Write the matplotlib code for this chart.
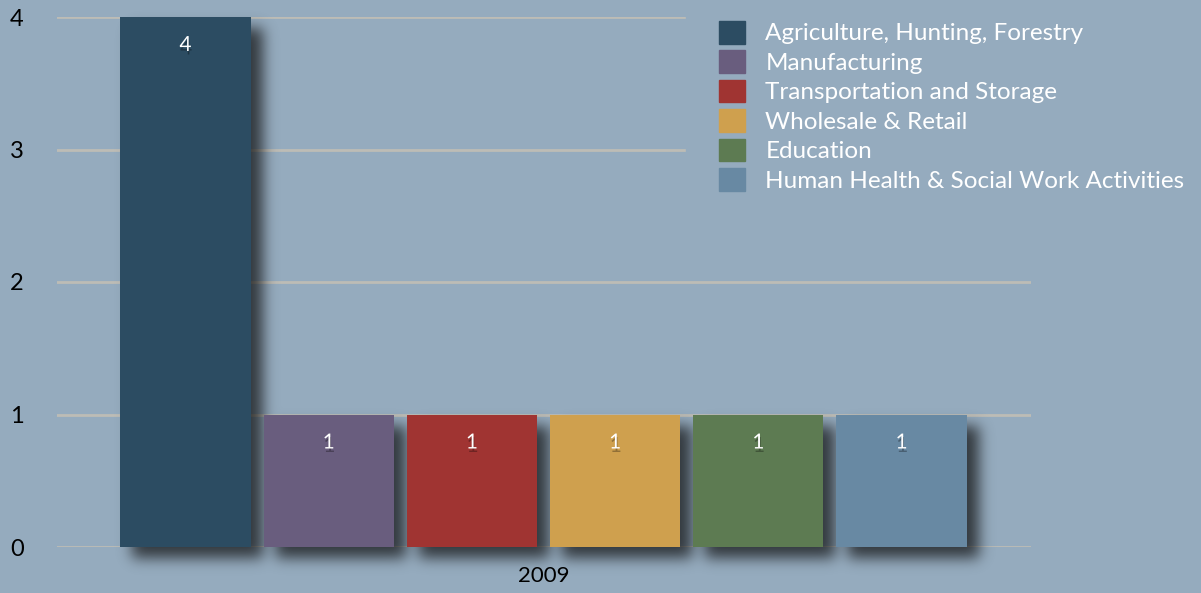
import matplotlib
matplotlib.use("Agg")
import numpy as np
import matplotlib.pyplot as plt
from matplotlib.patches import Rectangle
import matplotlib.patheffects as pe

categories = ["Agriculture, Hunting, Forestry", "Manufacturing", "Transportation and Storage",
              "Wholesale & Retail", "Education", "Human Health & Social Work Activities"]
values = [4, 1, 1, 1, 1, 1]
year_label = "2009"
yticks = [0, 1, 2, 3, 4]
colors = ["#2c4c62", "#695d7e", "#a03432", "#cfa04e", "#5d7b52", "#6889a3"]

BG = "#95abbe"
GRID = "#bdbcb6"
FONT = ["Lato", "DejaVu Sans"]
plt.rcParams["font.family"] = FONT

W, H = 1201, 593
fig = plt.figure(figsize=(W/100, H/100), dpi=100, facecolor=BG)
ax = fig.add_axes([57/W, 1-547/H, (1031-57)/W, (547-17)/H])
ax.set_facecolor(BG)
for s in ax.spines.values():
    s.set_visible(False)

step = 1.1
width = 1.0
xs = [i*step for i in range(len(values))]
ax.set_xlim(-0.987, xs[0] + 6.494)
ax.set_ylim(0, 4)

for y in yticks:
    ax.axhline(y, color=GRID, lw=2, zorder=1)

bars = ax.bar(xs, values, width=width, color=colors, zorder=3)

# blurred drop shadow computed from the bar geometry in pixel space
fig.canvas.draw()
mask = np.zeros((H, W))
dx, dy = 12, 11
for b in bars:
    (x0, y0), (x1, y1) = ax.transData.transform([(b.get_x(), b.get_y()),
                                                  (b.get_x() + b.get_width(), b.get_y() + b.get_height())])
    c0, c1 = int(round(x0 + dx)), int(round(x1 + dx))
    r0, r1 = int(round(H - y1 + dy)), int(round(H - y0 + dy))
    mask[max(r0, 0):min(r1, H), max(c0, 0):min(c1, W)] = 1.0
sigma = 7.0
k = np.arange(-24, 25)
g = np.exp(-k**2 / (2*sigma**2)); g /= g.sum()
mask = np.apply_along_axis(lambda m: np.convolve(m, g, mode='same'), 0, mask)
mask = np.apply_along_axis(lambda m: np.convolve(m, g, mode='same'), 1, mask)
rgba = np.zeros((H, W, 4))
rgba[..., :3] = 0.05
rgba[..., 3] = mask * 0.72
inv = ax.transData.inverted()
(ex0, ey0), (ex1, ey1) = inv.transform([(0, 0), (W, H)])
ax.imshow(rgba, extent=(ex0, ex1, ey0, ey1), origin='upper', aspect='auto',
          interpolation='nearest', zorder=2, clip_on=False)
ax.set_xlim(-0.987, xs[0] + 6.494)
ax.set_ylim(0, 4)

for x, v in zip(xs, values):
    t = ax.annotate(str(v), (x, v), xytext=(0, -28), textcoords='offset pixels',
                    ha='center', va='center', color='white', fontsize=15, zorder=5)
    t.set_path_effects([pe.withSimplePatchShadow(offset=(0.5, -2.5), shadow_rgbFace='black', alpha=0.3)])

ax.set_yticks(yticks)
ax.set_yticklabels([str(v) for v in yticks], fontsize=17, ha='left')
ax.tick_params(axis='y', length=0, pad=34, colors='black')
ax.set_xticks([(xs[0] + xs[-1]) / 2])
ax.set_xticklabels([year_label], fontsize=16)
ax.tick_params(axis='x', length=0, pad=14, colors='black')

handles = [Rectangle((0, 0), 1, 1, color=c) for c in colors]
leg = fig.legend(handles, categories, loc='upper left', bbox_to_anchor=(686/W, 1 + 12/H),
                 frameon=True, facecolor=BG, edgecolor=BG, framealpha=1, fancybox=False,
                 fontsize=17.5, handlelength=1.06, handleheight=1.06, handletextpad=0.86,
                 labelspacing=0.24, borderpad=1.35, borderaxespad=0)
for t in leg.get_texts():
    t.set_color('white')
leg.set_zorder(10)

fig.savefig("out.png", dpi=100, facecolor=BG)
